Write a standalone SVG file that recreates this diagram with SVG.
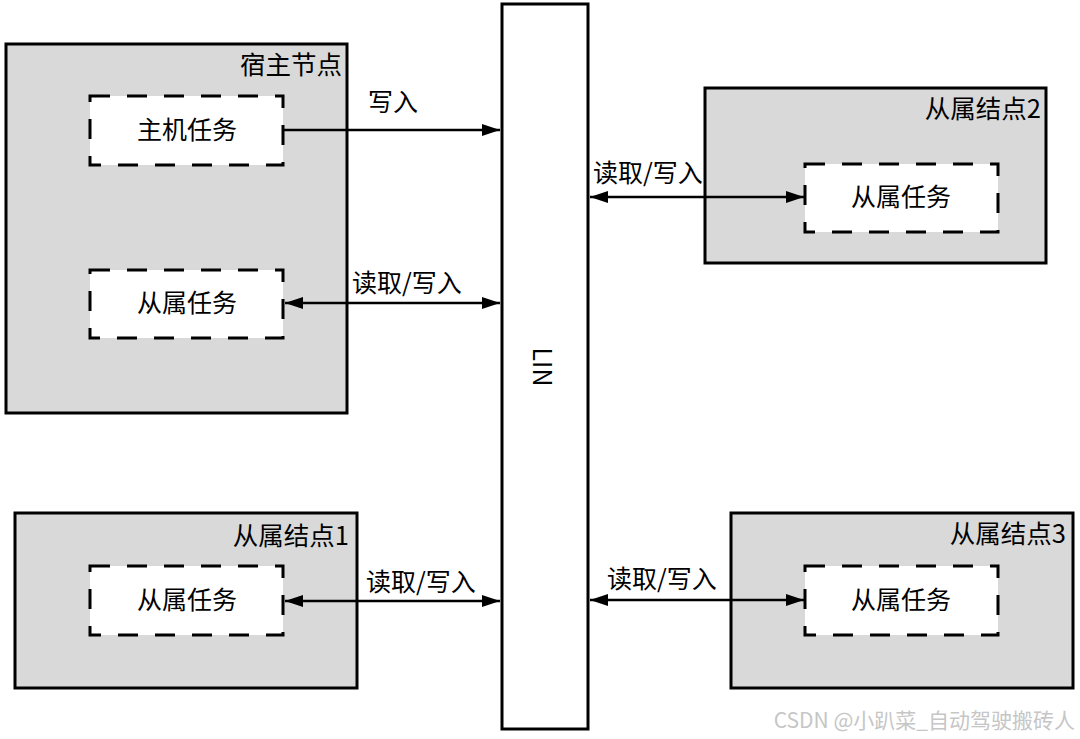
<svg xmlns="http://www.w3.org/2000/svg" width="1080" height="739" viewBox="0 0 1080 739">
  <style>
    .node { fill: #d9d9d9; stroke: #000; stroke-width: 3; }
    .task { fill: #fff; stroke: #000; stroke-width: 3; stroke-dasharray: 20 17; }
    .bus { fill: #fff; stroke: #000; stroke-width: 3; }
    .conn { stroke: #000; stroke-width: 2.5; fill: none; }
    text { font-family: "Microsoft YaHei", "Noto Sans CJK SC", "Noto Sans", sans-serif; fill: #000; dominant-baseline: central; }
    .t { font-size: 25px; text-anchor: middle; }
    .title { font-size: 25.5px; text-anchor: end; }
    .lbl { font-size: 25px; }
    .wm { font-size: 21px; fill: #c6c6c6; text-anchor: end; }
  </style>
  <defs>
    <marker id="arrEnd" markerUnits="userSpaceOnUse" markerWidth="20" markerHeight="14" refX="18" refY="6" orient="auto">
      <path d="M0,0 L18,6 L0,12 Z" fill="#000"/>
    </marker>
    <marker id="arrStart" markerUnits="userSpaceOnUse" markerWidth="20" markerHeight="14" refX="0" refY="6" orient="auto">
      <path d="M18,0 L0,6 L18,12 Z" fill="#000"/>
    </marker>
  </defs>

  <rect width="1080" height="739" fill="#fff"/>

  <g id="host">
    <rect class="node" x="6" y="44" width="341" height="369"/>
    <text class="title" x="342" y="62">宿主节点</text>
    <g id="host-master-task">
      <rect class="task" x="90" y="96" width="193" height="69"/>
      <text class="t" x="187" y="128">主机任务</text>
    </g>
    <g id="host-slave-task">
      <rect class="task" x="90" y="270" width="193" height="68"/>
      <text class="t" x="187" y="301">从属任务</text>
    </g>
  </g>

  <g id="lin">
    <rect class="bus" x="502" y="4" width="86" height="725"/>
    <text x="544" y="367" font-size="25" text-anchor="middle" transform="rotate(90 544 367)">LIN</text>
  </g>

  <g id="slave2">
    <rect class="node" x="705" y="88" width="341" height="175"/>
    <text class="title" x="1041" y="106">从属结点2</text>
    <g id="slave2-task">
      <rect class="task" x="805" y="164" width="193" height="68"/>
      <text class="t" x="901" y="195">从属任务</text>
    </g>
  </g>

  <g id="slave1">
    <rect class="node" x="15" y="513" width="342" height="175"/>
    <text class="title" x="349" y="533">从属结点1</text>
    <g id="slave1-task">
      <rect class="task" x="90" y="566" width="193" height="69"/>
      <text class="t" x="187" y="598">从属任务</text>
    </g>
  </g>

  <g id="slave3">
    <rect class="node" x="731" y="513" width="342" height="175"/>
    <text class="title" x="1066" y="531">从属结点3</text>
    <g id="slave3-task">
      <rect class="task" x="805" y="566" width="193" height="69"/>
      <text class="t" x="901" y="598">从属任务</text>
    </g>
  </g>

  <g id="connectors">
    <line class="conn" x1="284" y1="130" x2="500" y2="130" marker-end="url(#arrEnd)"/>
    <text class="lbl" x="368" y="100">写入</text>
    <line class="conn" x1="285" y1="303" x2="500" y2="303" marker-start="url(#arrStart)" marker-end="url(#arrEnd)"/>
    <text class="lbl" x="352" y="281">读取/写入</text>
    <line class="conn" x1="590" y1="197" x2="804" y2="197" marker-start="url(#arrStart)" marker-end="url(#arrEnd)"/>
    <text class="lbl" x="593" y="171">读取/写入</text>
    <line class="conn" x1="285" y1="601" x2="500" y2="601" marker-start="url(#arrStart)" marker-end="url(#arrEnd)"/>
    <text class="lbl" x="366" y="580">读取/写入</text>
    <line class="conn" x1="590" y1="600" x2="804" y2="600" marker-start="url(#arrStart)" marker-end="url(#arrEnd)"/>
    <text class="lbl" x="607" y="577">读取/写入</text>
  </g>

  <text class="wm" x="1075" y="719">CSDN @小趴菜_自动驾驶搬砖人</text>
</svg>
